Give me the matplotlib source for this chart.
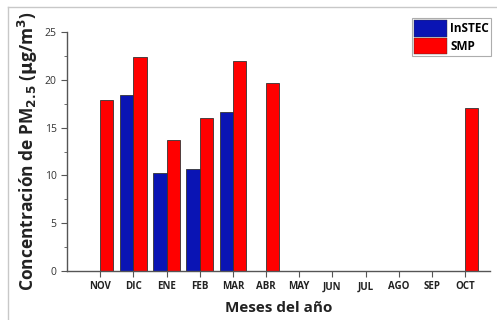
import matplotlib
matplotlib.use("Agg")
import matplotlib.pyplot as plt
import numpy as np
from matplotlib.lines import Line2D
from matplotlib.ticker import MultipleLocator

months = ["NOV", "DIC", "ENE", "FEB", "MAR", "ABR", "MAY", "JUN", "JUL", "AGO", "SEP", "OCT"]
instec = [np.nan, 18.4, 10.3, 10.7, 16.6, np.nan, np.nan, np.nan, np.nan, np.nan, np.nan, np.nan]
smp = [17.9, 22.4, 13.7, 16.0, 22.0, 19.7, np.nan, np.nan, np.nan, np.nan, np.nan, 17.1]

W, H = 497, 320
fig = plt.figure(figsize=(W / 100, H / 100), dpi=100)
ax = fig.add_axes([67 / W, 49 / H, 423 / W, 239 / H])

x = np.arange(len(months))
bw = 0.4
ax.bar(x - bw / 2, instec, width=bw, color="#0a14b4", edgecolor="#333333", linewidth=0.6, label="InSTEC")
ax.bar(x + bw / 2, smp, width=bw, color="#ff0000", edgecolor="#333333", linewidth=0.6, label="SMP")

ax.set_xlim(-1.0, 11.75)
ax.set_ylim(0, 25)
ax.set_xticks(x)
ax.set_xticklabels(months, fontsize=7, fontweight="bold", family="Open Sans", color="#222222")
ax.yaxis.set_major_locator(MultipleLocator(5))
ax.yaxis.set_minor_locator(MultipleLocator(2.5))
for lbl in ax.get_yticklabels():
    lbl.set_fontsize(7.5)
    lbl.set_family("Open Sans")
    lbl.set_color("#333333")

for side in ("top", "right"):
    ax.spines[side].set_visible(False)
for side in ("left", "bottom"):
    ax.spines[side].set_color("#555555")
    ax.spines[side].set_linewidth(1.0)
ax.tick_params(axis="both", which="major", direction="out", length=4, width=0.8, color="#555555")
ax.tick_params(axis="y", which="minor", direction="out", length=2.5, width=0.6, color="#555555")
ax.tick_params(axis="x", pad=3.5)

ax.set_ylabel(r"Concentración de PM$_{\mathbf{2.5}}$ ($\mathbf{\mu}$g/m$^{\mathbf{3}}$)",
              fontsize=12.5, fontweight="bold", family="Open Sans", color="#222222", labelpad=3)
ax.set_xlabel("Meses del año", fontsize=11, fontweight="bold", family="Open Sans",
              color="#222222", labelpad=6)

leg = ax.legend(loc="upper right", bbox_to_anchor=(1.003, 1.059), frameon=True, fancybox=False,
                prop={"family": "Open Sans", "weight": "bold", "size": 8.5},
                handlelength=2.8, handleheight=1.75, handletextpad=0.25, borderpad=0.2,
                labelspacing=0.1, borderaxespad=0.0)
leg.get_frame().set_edgecolor("#999999")
leg.get_frame().set_linewidth(0.8)
for h in leg.legend_handles:
    h.set_linewidth(0.3)

# thin frame lines along the top and left of the figure
fig.add_artist(Line2D([8 / W, 1.0], [1 - 7 / H, 1 - 7 / H], transform=fig.transFigure,
                      color="#c8c8c8", linewidth=1.0))
fig.add_artist(Line2D([8 / W, 8 / W], [0, 1 - 7 / H], transform=fig.transFigure,
                      color="#c8c8c8", linewidth=1.0))

fig.savefig("out.png", dpi=100)
